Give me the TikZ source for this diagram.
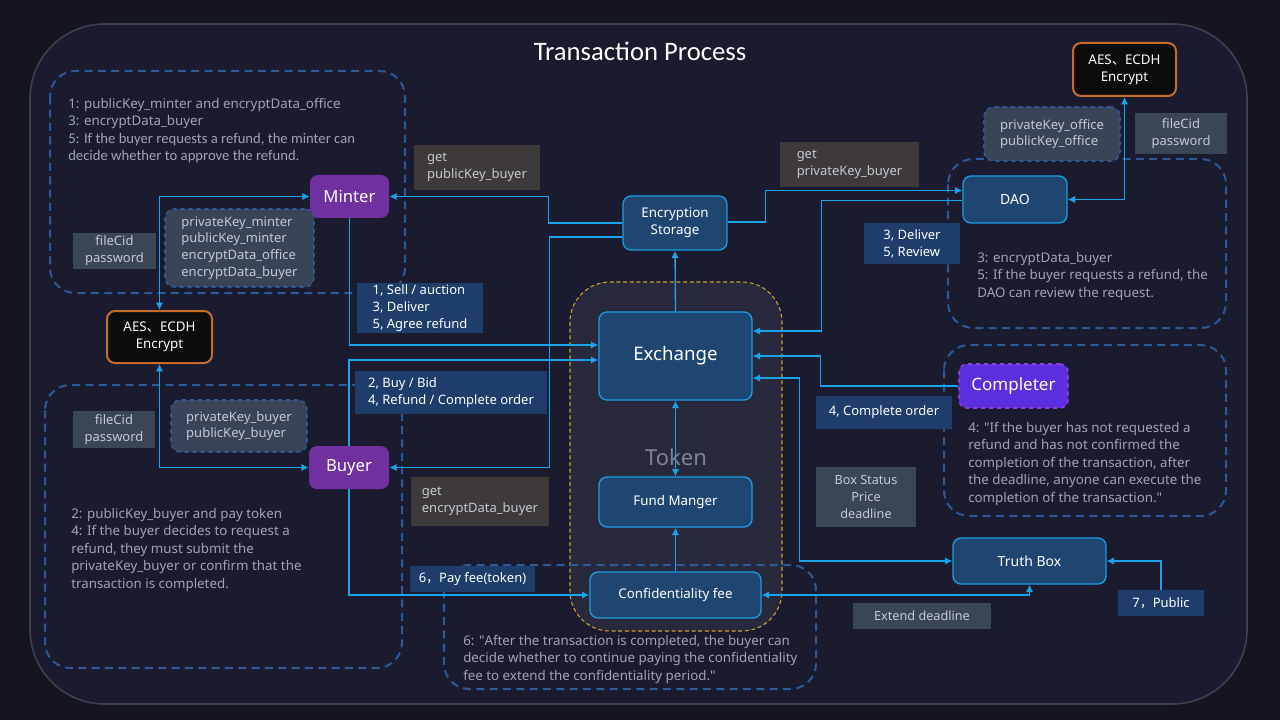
\documentclass[tikz,border=0pt]{standalone}
\usepackage{fontspec}
\setmainfont{Noto Sans}
\newfontfamily\titlefont{Carlito}
\newfontfamily\cjk{Noto Sans CJK SC}
\usetikzlibrary{arrows.meta, calc}

\definecolor{pagebg}{HTML}{15151F}
\definecolor{framebg}{HTML}{1B1B2F}
\definecolor{framec}{HTML}{3C4052}
\definecolor{groupc}{HTML}{2E5896}
\definecolor{tokenfill}{HTML}{29293D}
\definecolor{tokenc}{HTML}{C9A032}
\definecolor{tokentext}{HTML}{7D8496}
\definecolor{nodefill}{HTML}{1F4670}
\definecolor{nodec}{HTML}{1B9DE2}
\definecolor{rolefill}{HTML}{7030A0}
\definecolor{compfill}{HTML}{5B2EE0}
\definecolor{compc}{HTML}{8A3FD0}
\definecolor{aesfill}{HTML}{0C0C0C}
\definecolor{aesc}{HTML}{C86A2A}
\definecolor{keyfill}{HTML}{3A4458}
\definecolor{infofill}{HTML}{3A4556}
\definecolor{getfill}{HTML}{3E3A3A}
\definecolor{actfill}{HTML}{1F3D6B}
\definecolor{linkc}{HTML}{1AA3E8}
\definecolor{lighttext}{HTML}{C4C8D4}
\definecolor{notec}{HTML}{A0A4B0}

\begin{document}
\begin{tikzpicture}[x=0.75pt, y=-0.75pt]
\tikzstyle{group}=[draw=groupc, line width=1.5pt, dash pattern=on 6pt off 4pt, rounded corners=19pt]
\tikzstyle{box}=[draw=nodec, fill=nodefill, line width=1pt, rounded corners=6pt, text=white, align=center, font=\fontsize{10}{12.75}\selectfont]
\tikzstyle{role}=[fill=rolefill, rounded corners=6pt, text=white, font=\fontsize{12.5}{14}\selectfont]
\tikzstyle{crypt}=[draw=aesc, fill=aesfill, line width=1.5pt, rounded corners=6pt, text=white, align=center, font=\fontsize{10}{12.75}\selectfont]
\tikzstyle{keys}=[draw=groupc, dashed, line width=1.2pt, fill=keyfill, rounded corners=7pt, text=lighttext, align=left, font=\fontsize{9.75}{12.4}\selectfont]
\tikzstyle{info}=[fill=infofill, text=lighttext, align=center, inner sep=1pt, font=\fontsize{9.75}{12.75}\selectfont]
\tikzstyle{get}=[fill=getfill, text=lighttext, align=left, inner sep=1pt, font=\fontsize{9.75}{12.75}\selectfont]
\tikzstyle{action}=[fill=actfill, text=white, align=left, inner xsep=6pt, inner ysep=1pt, font=\fontsize{9.75}{12.75}\selectfont]
\tikzstyle{note}=[text=notec, align=left, anchor=north west, inner sep=0pt, font=\fontsize{10}{13.1}\selectfont]
\tikzstyle{link}=[draw=linkc, line width=1pt, -{Latex[length=5.5pt,width=5.5pt]}]
\tikzstyle{both}=[link, {Latex[length=5.5pt,width=5.5pt]}-{Latex[length=5.5pt,width=5.5pt]}]

\fill[pagebg] (0,0) rectangle (1280,720);
\useasboundingbox (0,0) rectangle (1280,720);
\draw[fill=framebg, draw=framec, line width=1.2pt, rounded corners=56pt] (30,24) rectangle (1247,704);
\node[text=white, font=\titlefont\fontsize{20}{24}\selectfont] (title) at (640,51) {Transaction Process};

\draw[fill=tokenfill, draw=tokenc, line width=0.8pt, dash pattern=on 3pt off 2pt, rounded corners=30pt] (570,282) rectangle (782,631);
\node[text=tokentext, font=\fontsize{16.5}{18}\selectfont] (token) at (676,457) {Token};
\foreach \xa/\ya/\xb/\yb in {50/71/405/293, 45/385/402/668, 948/159/1226/328, 944/345/1226/516, 444/565/816/689}
  \draw[group] (\xa,\ya) rectangle (\xb,\yb);

\node[box, minimum width=78pt, minimum height=40.5pt] (store) at (675,223) {Encryption\\Storage};
\node[box, font=\fontsize{14}{16}\selectfont, minimum width=114.75pt, minimum height=66pt] (exch) at (675.5,356) {Exchange};
\node[box, minimum width=114.75pt, minimum height=37.5pt] (fund) at (675.5,502) {Fund Manger};
\node[box, minimum width=128.25pt, minimum height=34.5pt] (fee) at (675.5,595) {Confidentiality fee};
\node[box, font=\fontsize{10.5}{12}\selectfont, minimum width=78pt, minimum height=35.25pt] (dao) at (1015,199.5) {DAO};
\node[box, font=\fontsize{10.5}{12}\selectfont, minimum width=114.75pt, minimum height=34.5pt] (truth) at (1029.5,561) {Truth Box};

\node[role, minimum width=59.25pt, minimum height=32.25pt] (minter) at (349.5,196.5) {Minter};
\node[role, minimum width=60pt, minimum height=32.25pt] (buyer) at (349,467.5) {Buyer};
\node[role, fill=compfill, draw=compc, dashed, line width=1.2pt, font=\fontsize{12.75}{14}\selectfont, minimum width=81.75pt, minimum height=33pt] (comp) at (1013.5,386) {Completer};

\node[crypt, minimum width=78.75pt, minimum height=39pt] (aesL) at (159.5,337) {AES{\cjk 、}ECDH\\Encrypt};
\node[crypt, minimum width=77.25pt, minimum height=39.75pt] (aesR) at (1124.5,69.5) {AES{\cjk 、}ECDH\\Encrypt};

\node[keys, minimum width=111.75pt, minimum height=58.5pt] (mkeys) at (239.5,248) {privateKey\_minter\\publicKey\_minter\\encryptData\_office\\encryptData\_buyer};
\node[keys, minimum width=102pt, minimum height=39pt] (bkeys) at (239,426) {privateKey\_buyer\\publicKey\_buyer};
\node[keys, minimum width=102pt, minimum height=40.5pt] (okeys) at (1052,134) {privateKey\_office\\publicKey\_office};

\node[info, minimum width=62.25pt, minimum height=27pt] (cidM) at (114.5,251) {fileCid\\password};
\node[info, minimum width=61.5pt, minimum height=27.75pt] (cidB) at (114,429.5) {fileCid\\password};
\node[info, minimum width=69pt, minimum height=30.75pt] (cidO) at (1181,133.5) {fileCid\\password};
\node[info, font=\fontsize{9.5}{12.75}\selectfont, minimum width=75pt, minimum height=45pt] (state) at (866,497) {Box Status\\Price\\deadline};
\node[info, font=\fontsize{9.5}{12.75}\selectfont, minimum width=103.5pt, minimum height=19.5pt] (extend) at (922,616) {Extend deadline};

\node[get, minimum width=94.5pt, minimum height=33.75pt] (getpub) at (477,167.5) {get\\publicKey\_buyer};
\node[get, minimum width=104.25pt, minimum height=33.75pt] (getpriv) at (849.5,164.5) {get\\privateKey\_buyer};
\node[get, minimum width=103.5pt, minimum height=36.75pt] (getdata) at (480,501.5) {get\\encryptData\_buyer};

\node[action, minimum width=94.5pt, minimum height=36pt] (sell) at (420,308) {1, Sell / auction\\3, Deliver\\5, Agree refund};
\node[action, minimum width=144pt, minimum height=32.25pt] (bid) at (451,392.5) {2, Buy / Bid\\4, Refund / Complete order};
\node[action, minimum width=93.75pt, minimum height=19.5pt] (pay) at (472.5,579) {6{\cjk ，}Pay fee(token)};
\node[action, minimum width=72pt, minimum height=30.75pt] (review) at (912,243.5) {3, Deliver\\5, Review};
\node[action, minimum width=102pt, minimum height=24.75pt] (order) at (884,412.5) {4, Complete order};
\node[action, align=center, minimum width=64.5pt, minimum height=19.5pt] (pub) at (1161,603) {7{\cjk ，}Public};

\node[note] (mnote) at (68,98) {1: publicKey\_minter and encryptData\_office\\3: encryptData\_buyer\\{\titlefont\fontsize{11}{13.1}\selectfont 5: If the buyer requests a refund, the minter can}\\{\titlefont\fontsize{11}{13.1}\selectfont decide whether to approve the refund.}};
\node[note] (bnote) at (71,508) {2: publicKey\_buyer and pay token\\4: If the buyer decides to request a\\refund, they must submit the\\privateKey\_buyer or confirm that the\\transaction is completed.};
\node[note] (dnote) at (977,252) {3: encryptData\_buyer\\5: If the buyer requests a refund, the\\DAO can review the request.};
\node[note] (cnote) at (968,422) {4: \textquotedbl If the buyer has not requested a\\refund and has not confirmed the\\completion of the transaction, after\\the deadline, anyone can execute the\\completion of the transaction.\textquotedbl};
\node[note] (fnote) at (463,635) {6: \textquotedbl After the transaction is completed, the buyer can\\decide whether to continue paying the confidentiality\\fee to extend the confidentiality period.\textquotedbl};

\draw[link] (store.west) -- ++(-74,0) |- (minter.east);
\draw[link] ($(store.west)+(0,14)$) -- ++(-73,0) |- (buyer.east);
\draw[link] ($(store.east)+(0,-1)$) -- ++(38,0) |- ($(dao.west)+(0,-9)$);
\draw[link] ($(dao.west)+(0,1)$) -- ++(-141,0) |- ($(exch.east)+(0,-25)$);
\draw[link] (comp.west) -- ++(-138,0) |- (exch.east);
\draw[both] ($(exch.east)+(0,22)$) -- ++(47,0) |- (truth.west);
\draw[link] (exch.north) -- (store.south);
\draw[both] (fund.north) -- (exch.south);
\draw[link] (fee.north) -- (fund.south);
\draw[link] (minter.south) |- ($(exch.west)+(0,-11)$);
\draw[link] (buyer.north) |- ($(exch.west)+(0,4)$);
\draw[link] (buyer.south) |- (fee.west);
\draw[both] (truth.south) |- (fee.east);
\draw[link] (pub.north) |- (truth.east);
\draw[both] (dao.east) -| (aesR.south);
\draw[both] (minter.west) -| (aesL.north);
\draw[both] (aesL.south) |- (buyer.west);
\end{tikzpicture}
\end{document}
